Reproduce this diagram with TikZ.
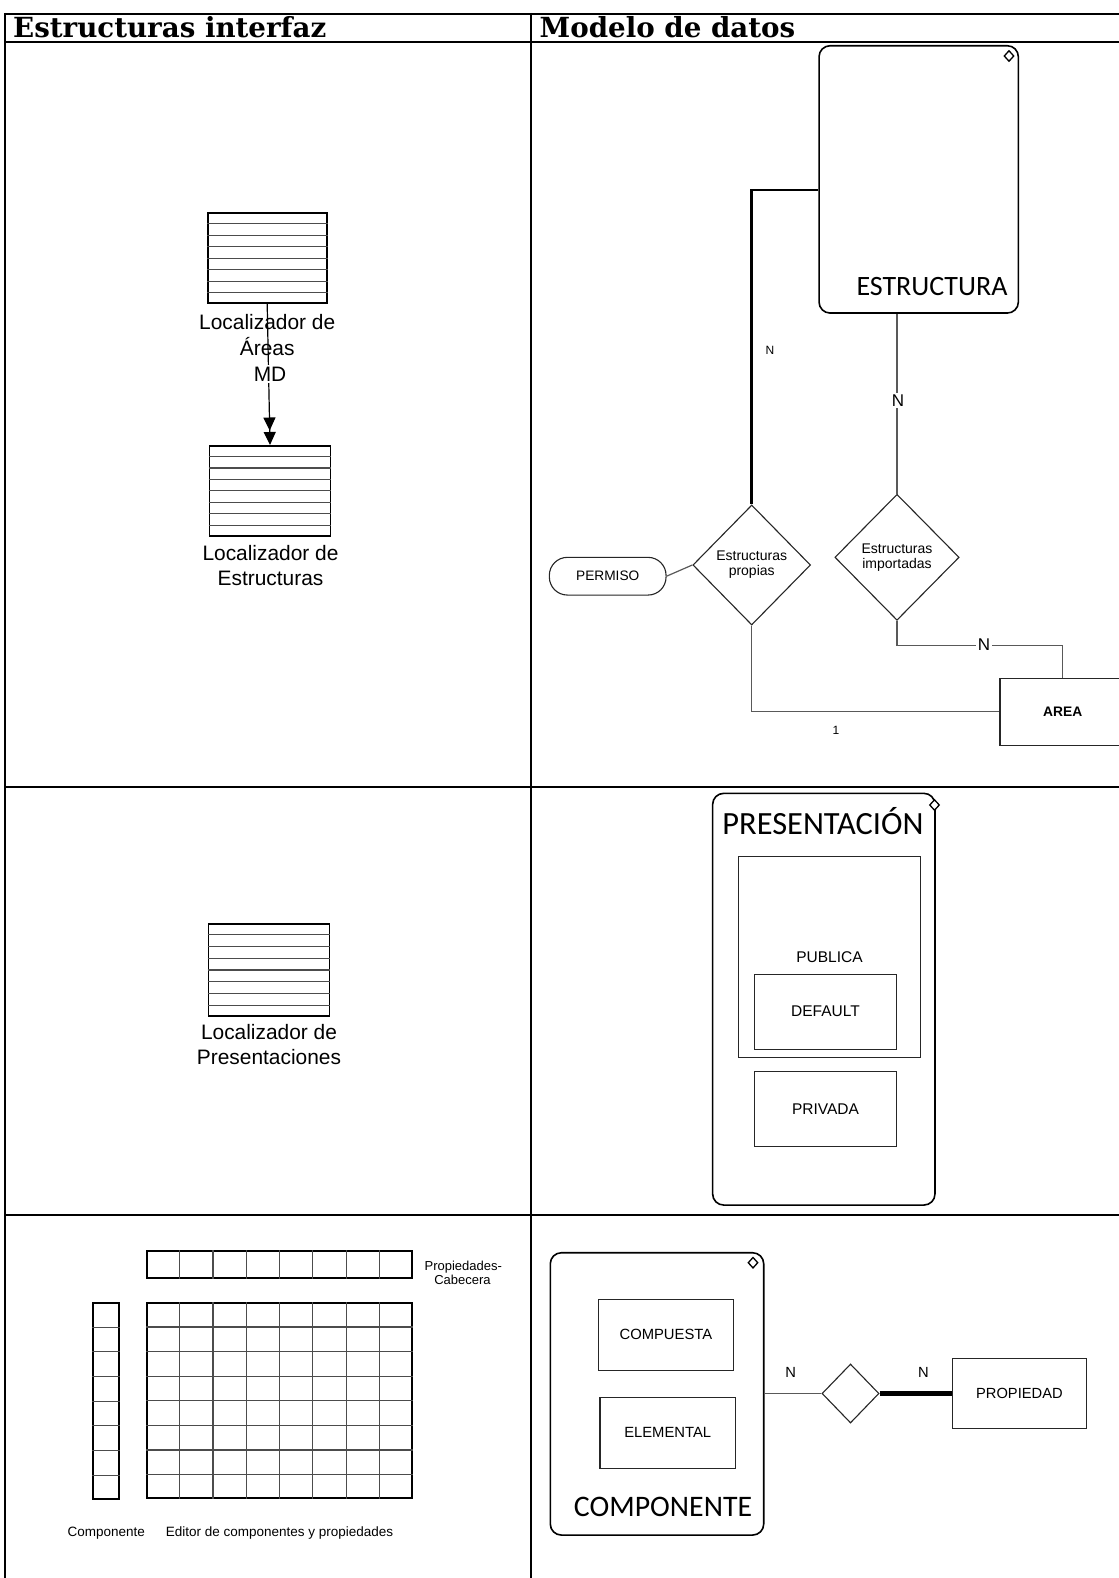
\documentclass[tikz,border=0pt]{standalone}
\usepackage{fontspec}
\setmainfont{Liberation Sans}
\newfontfamily\headfont{DejaVu Serif}
\newfontfamily\calfont{Carlito}
\usetikzlibrary{shapes.geometric,arrows.meta,calc}
\newcommand\setpx[2]{\fontsize{#1}{#2}\selectfont}
\begin{document}
\begin{tikzpicture}[x=1pt,y=-1pt,
  every node/.style={inner sep=0pt},
  tbl/.style={line width=2pt},
  lst/.style={draw, line width=1.8pt, rectangle},
  rule/.style={line width=1.1pt, draw=black!70},
  ebox/.style={draw=black!85, line width=1.1pt, rectangle},
  rbox/.style={draw, line width=1.6pt, rectangle, rounded corners=11pt},
  cornermark/.style={draw, diamond, line width=1.3pt, fill=white, minimum width=10pt, minimum height=11pt},
  rel/.style={draw=black!85, line width=1.1pt, diamond, align=center},
  conn/.style={line width=1.2pt, draw=black!65},
  heavy/.style={line width=2.7pt},
  heavier/.style={line width=5pt},
  tag/.style={fill=white, inner sep=1.5pt},
  txt/.style={font=\setpx{20.9}{25}},
  head/.style={anchor=base west, font=\headfont\bfseries\setpx{27.7}{31}},
]
\fill[white] (0,0) rectangle (1118,1578);
\useasboundingbox (0,0) rectangle (1118,1578);

% ---------- table frame ----------
\draw[tbl] (4.5,14) -- (1125,14);
\draw[tbl] (4.5,42.5) -- (1125,42.5);
\draw[tbl] (4.5,786.7) -- (1125,786.7);
\draw[tbl] (4.5,1215) -- (1125,1215);
\draw[tbl] (4.5,13) -- (4.5,1590);
\draw[tbl] (531.4,13) -- (531.4,1590);
\node[head] (hleft) at (13,37.5) {Estructuras interfaz};
\node[head] (hright) at (539.5,37.5) {Modelo de datos};

% ---------- interface: list locators ----------
\node[lst, minimum width=119pt, minimum height=90pt] (locareas) at (267.2,258.3) {};
\node[lst, minimum width=121pt, minimum height=90pt] (locestr) at (270,490.9) {};
\node[lst, minimum width=121pt, minimum height=92pt] (locpres) at (269,970) {};
\foreach \n in {locareas,locestr,locpres}
  \foreach \k in {1,...,7}
    \draw[rule] ($(\n.north west)!\k/8!(\n.south west)$) -- ($(\n.north east)!\k/8!(\n.south east)$);

\draw[line width=1.2pt, -{Triangle[length=13pt,width=12pt,sep=1.5pt]Triangle[length=13pt,width=12pt]}]
  (locareas.south) -- (locestr.north);
\node[txt, anchor=base] (areas1) at (267.2,330) {Localizador de};
\node[txt, anchor=base] (areas2) at (267.2,355) {Áreas};
\node[txt, anchor=base, tag] (md) at (270,381) {MD};
\node[txt, anchor=base] (estr1) at (270.5,560.7) {Localizador de};
\node[txt, anchor=base] (estr2) at (270.5,585) {Estructuras};
\node[txt, anchor=base] (pres1) at (269,1039.5) {Localizador de};
\node[txt, anchor=base] (pres2) at (269,1064.6) {Presentaciones};

% ---------- data model: ESTRUCTURA ----------
\node[rbox, minimum width=199.3pt, minimum height=267.3pt] (estructura) at (918.7,179.4) {};
\node[anchor=base, font=\calfont\setpx{28}{30}] (estructuratxt) at (932,296) {ESTRUCTURA};
\node[cornermark] (estmark) at (1009,56) {};

\node[rel, minimum width=117.7pt, minimum height=120pt, font=\setpx{14}{15}] (propias) at (751.7,565) {Estructuras\\propias};
\node[rel, minimum width=124.3pt, minimum height=126pt, font=\setpx{14}{15}] (importadas) at (897,557.3) {Estructuras\\importadas};
\node[draw=black!85, line width=1.1pt, rounded corners=18pt, minimum width=116.7pt, minimum height=37.7pt, font=\setpx{13.7}{16}] (permiso) at (607.7,576.2) {PERMISO};
\node[ebox, minimum width=125.4pt, minimum height=66.7pt, font=\bfseries\setpx{13.8}{16}] (area) at (1062.7,711.7) {AREA};

\draw[heavy] (propias.north) |- ([yshift=-10.6pt]estructura.west);
\draw[conn] (permiso.east) -- (propias.west);
\draw[conn] (importadas.north) -- (importadas.north |- estructura.south);
\draw[conn] (importadas.south) -- ++(0,24.3) -| (area.north);
\draw[conn] (propias.south) |- (area.west);
\node[font=\setpx{12}{14}] (nleft) at (770,350) {N};
\node[tag, font=\setpx{17}{19}] (nright) at (898,400.5) {N};
\node[tag, font=\setpx{17}{19}] (narea) at (984,644.5) {N};
\node[font=\setpx{12}{14}] (one) at (836,730.7) {1};

% ---------- data model: PRESENTACION ----------
\node[rbox, minimum width=222.3pt, minimum height=411.7pt] (presentacion) at (823.8,999.2) {};
\node[anchor=base, font=\calfont\setpx{32.4}{34}] (presentaciontxt) at (823,834) {PRESENTACIÓN};
\node[cornermark] (presmark) at (934.5,805) {};
\node[ebox, minimum width=182.4pt, minimum height=200.6pt, font=\setpx{15.5}{18}] (publica) at (829.5,957) {PUBLICA};
\node[ebox, minimum width=142.4pt, minimum height=75.3pt, font=\setpx{15.5}{18}] (default) at (825.5,1011.7) {DEFAULT};
\node[ebox, minimum width=142.4pt, minimum height=75pt, font=\setpx{15.5}{18}] (privada) at (825.5,1109.2) {PRIVADA};

% ---------- interface: component editor ----------
\node[lst, minimum width=264.4pt, minimum height=27.3pt] (cabecera) at (279.5,1264.7) {};
\node[lst, minimum width=264.4pt, minimum height=195pt] (editor) at (279.5,1400.8) {};
\node[lst, minimum width=26pt, minimum height=195.7pt] (compcol) at (106.3,1401.2) {};
\foreach \n in {cabecera,editor}
  \foreach \k in {1,...,7}
    \draw[rule] ($(\n.north west)!\k/8!(\n.north east)$) -- ($(\n.south west)!\k/8!(\n.south east)$);
\foreach \n in {editor,compcol}
  \foreach \k in {1,...,7}
    \draw[rule] ($(\n.north west)!\k/8!(\n.south west)$) -- ($(\n.north east)!\k/8!(\n.south east)$);
\node[anchor=base, font=\setpx{13}{14}] (cab1) at (463.3,1270) {Propiedades-};
\node[anchor=base, font=\setpx{13}{14}] (cab2) at (462.5,1284) {Cabecera};
\node[anchor=base, font=\setpx{13.5}{16}] (complbl) at (106.2,1536) {Componente};
\node[anchor=base, font=\setpx{13.5}{16}] (editlbl) at (279.5,1536) {Editor de componentes y propiedades};

% ---------- data model: COMPONENTE ----------
\node[rbox, minimum width=213.4pt, minimum height=282.3pt] (componente) at (657,1393.9) {};
\node[anchor=base, font=\calfont\setpx{29.8}{31}] (componentetxt) at (663,1516) {COMPONENTE};
\node[cornermark] (compmark) at (753,1262.7) {};
\node[ebox, minimum width=135.3pt, minimum height=70.7pt, font=\setpx{14.8}{17}] (compuesta) at (665.9,1334.7) {COMPUESTA};
\node[ebox, minimum width=135.4pt, minimum height=71pt, font=\setpx{14.8}{17}] (elemental) at (667.7,1432.8) {ELEMENTAL};
\node[rel, minimum width=57pt, minimum height=59pt] (tiene) at (850.5,1393.5) {};
\node[ebox, minimum width=134.5pt, minimum height=70.7pt, font=\setpx{14.7}{17}] (propiedad) at (1019.4,1393.5) {PROPIEDAD};
\draw[conn] (tiene.west -| componente.east) -- (tiene.west);
\draw[heavier] (tiene.east) -- (propiedad.west);
\node[font=\setpx{14.7}{17}] (ncomp) at (790.6,1372.3) {N};
\node[font=\setpx{14.7}{17}] (nprop) at (923.3,1372.3) {N};
\end{tikzpicture}
\end{document}
